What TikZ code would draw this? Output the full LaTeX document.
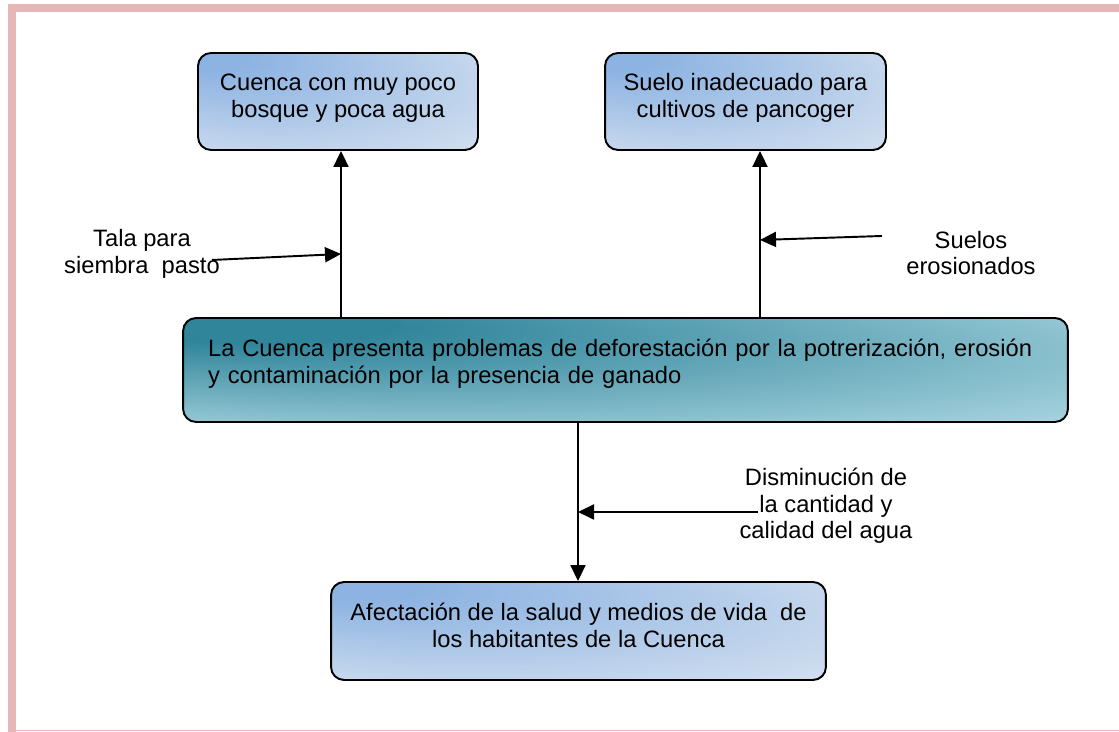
\documentclass[tikz,border=0pt]{standalone}
\usepackage{fontspec}
\setmainfont{Liberation Sans}
\usetikzlibrary{positioning,arrows.meta,calc}
\definecolor{BoxBlueDark}{RGB}{141,179,226}
\definecolor{BoxBlueLight}{RGB}{219,229,241}
\definecolor{TealDark}{RGB}{49,133,155}
\definecolor{TealLight}{RGB}{183,222,232}
\definecolor{FramePink}{RGB}{229,184,183}
\pgfdeclareradialshading{cornerblue}{\pgfpoint{-25bp}{25bp}}{%
  color(0bp)=(BoxBlueDark); color(6bp)=(BoxBlueDark); color(46bp)=(BoxBlueLight); color(50bp)=(BoxBlueLight)}
\pgfdeclareradialshading{cornerteal}{\pgfpoint{-25bp}{25bp}}{%
  color(0bp)=(TealDark); color(8bp)=(TealDark); color(46bp)=(TealLight); color(50bp)=(TealLight)}
\tikzset{
  flow/.style={-{Triangle[length=3.2mm,width=3mm]},line width=1.1pt,draw=black},
  bluebox/.style={draw=black,line width=1.1pt,rounded corners=0.26cm,
    shade,shading=cornerblue,
    align=center,text depth=7pt,font=\fontsize{13.5}{15.3}\selectfont},
  tealbox/.style={draw=black,line width=1.1pt,rounded corners=0.26cm,
    shade,shading=cornerteal,
    align=left,text depth=25pt,font=\fontsize{13.5}{15.3}\selectfont},
  cause/.style={align=center,font=\fontsize{13.5}{15}\selectfont}
}
\begin{document}
\begin{tikzpicture}[x=0.02cm,y=0.02cm]
  \useasboundingbox (0,0) rectangle (1119,732);
  \fill[FramePink] (8,0) rectangle (16,728);
  \fill[FramePink] (8,720) rectangle (1119,728);
  \fill[FramePink] (16,0.5) rectangle (1119,2);
  \node[bluebox,minimum width=5.6cm,minimum height=1.94cm] (cuenca) at (338,630.5) {
    Cuenca con muy poco\\bosque y poca agua
  };
  \node[bluebox,minimum width=5.62cm,minimum height=1.94cm] (suelo) at (745.5,630.5) {
    Suelo inadecuado para\\cultivos de pancoger
  };
  \node[tealbox,minimum width=17.7cm,minimum height=2.08cm,text width=16.7cm] (problema) at (625.5,362) {
    \makebox[16.7cm][s]{La Cuenca presenta problemas de deforestación por la potrerización, erosión}\\
    y contaminación por la presencia de ganado
  };
  \node[bluebox,minimum width=9.9cm,minimum height=1.96cm] (afecta) at (578.5,101) {
    Afectación de la salud y medios de vida\ \ de\\los habitantes de la Cuenca
  };
  \node[cause] (tala) at (142,478) {Tala para\\siembra\ \ pasto};
  \node[cause] (suelos) at (971,479) {Suelos\\erosionados};
  \node[cause] (disminucion) at (826,226) {Disminución de\\la cantidad y\\calidad del agua};
  \coordinate (talaTail) at (212,472);
  \coordinate (talaHead) at (341,478);
  \coordinate (suelosTail) at (882,496);
  \coordinate (suelosHead) at (760,492);
  \coordinate (dismTail) at (758,220);
  \coordinate (dismHead) at (578,220);
  \draw[flow] (problema.north -| talaHead) -- (cuenca.south -| talaHead);
  \draw[flow] (talaTail) -- (talaHead);
  \draw[flow] (problema.north -| suelosHead) -- (suelo.south -| suelosHead);
  \draw[flow] (suelosTail) -- (suelosHead);
  \draw[flow] (problema.south -| dismHead) -- (afecta.north -| dismHead);
  \draw[flow] (dismTail) -- (dismHead);
\end{tikzpicture}
\end{document}
